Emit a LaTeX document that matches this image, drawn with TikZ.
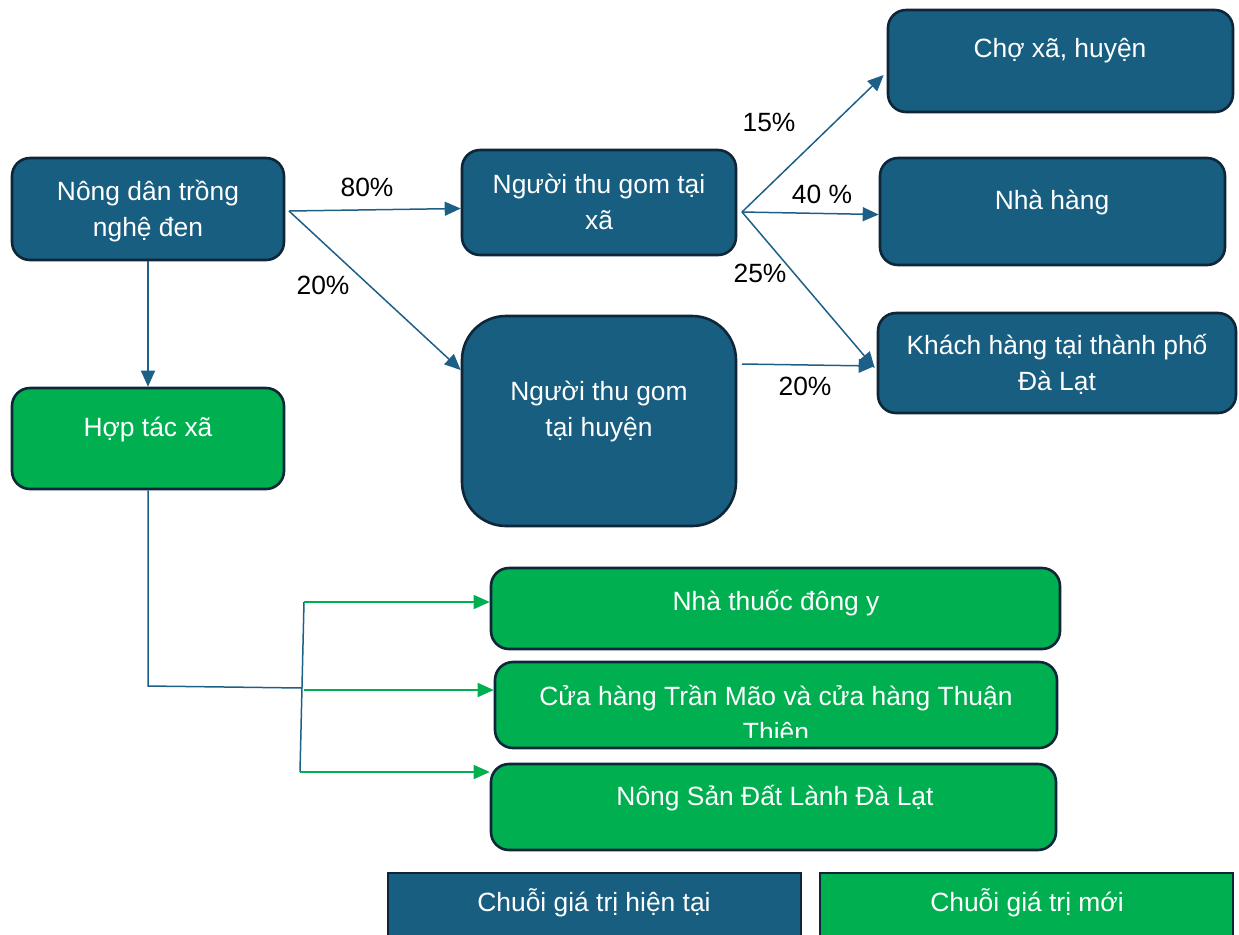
\documentclass[tikz,border=0pt]{standalone}
\usepackage{fontspec}
\setmainfont{Liberation Sans}
\usetikzlibrary{arrows.meta,fit,calc}

\definecolor{chainblue}{RGB}{24,94,128}
\definecolor{chaingreen}{RGB}{0,176,80}
\definecolor{edgenavy}{RGB}{14,38,56}
\definecolor{linkblue}{RGB}{30,95,135}

\tikzset{
  card/.style={draw=edgenavy, line width=1.3pt, rounded corners=9pt, inner sep=0pt},
  current/.style={card, fill=chainblue},
  newchain/.style={card, fill=chaingreen},
  caption/.style={text=white, align=center, inner sep=0pt, font=\fontsize{13.2}{18}\selectfont},
  pct/.style={text=black, inner sep=0pt, font=\fontsize{13.2}{16}\selectfont},
  flow/.style={draw=linkblue, line width=0.75pt, -{Triangle[length=8pt,width=7pt]}},
  trunk/.style={draw=linkblue, line width=0.75pt},
  newflow/.style={draw=chaingreen, line width=0.75pt, -{Triangle[length=8pt,width=7pt]}},
}

\begin{document}
\begin{tikzpicture}[x=0.5pt,y=-0.5pt]
\useasboundingbox (0,0) rectangle (1239,934);

% current value chain
\node[current, fit={(12,158)(284,260)}] (farm) {};
\node[caption] (farmtxt) at (148,211) {Nông dân trồng\\nghệ đen};
\node[current, fit={(462,150)(736,255)}] (xa) {};
\node[caption] (xatxt) at (599,202) {Người thu gom tại\\xã};
\node[current, rounded corners=22pt, fit={(462,316)(736,526)}] (huyen) {};
\node[caption] (huyentxt) at (599,412) {Người thu gom\\tại huyện};
\node[current, fit={(888,10)(1233,112)}] (market) {};
\node[caption] (markettxt) at (1060,51) {Chợ xã, huyện};
\node[current, fit={(880,158)(1225,265)}] (rest) {};
\node[caption] (resttxt) at (1052,203) {Nhà hàng};
\node[current, fit={(878,313)(1236,413)}] (city) {};
\node[caption] (citytxt) at (1057,364) {Khách hàng tại thành phố\\Đà Lạt};

% new value chain
\node[newchain, fit={(12,388)(284,489)}] (coop) {};
\node[caption] (cooptxt) at (148,430) {Hợp tác xã};
\node[newchain, fit={(491,568)(1060,649)}] (pharm) {};
\node[caption] (pharmtxt) at (776,603) {Nhà thuốc đông y};
\node[newchain, fit={(495,662)(1057,748)}] (shops) {};
\begin{scope}
  \clip (495,662) rectangle (1057,737);
  \node[caption] (shopstxt) at (776,713) {Cửa hàng Trần Mão và cửa hàng Thuận\\Thiên};
\end{scope}
\node[newchain, fit={(491,764)(1056,850)}] (dalat) {};
\node[caption] (dalattxt) at (775,798) {Nông Sản Đất Lành Đà Lạt};

% legend
\node[current, rounded corners=0pt, fit={(388,873)(801,960)}] (legcur) {};
\node[caption] (legcurtxt) at (594,903) {Chuỗi giá trị hiện tại};
\node[newchain, rounded corners=0pt, fit={(820,873)(1233,960)}] (legnew) {};
\node[caption] (legnewtxt) at (1027,903) {Chuỗi giá trị mới};

% flows of the current chain
\coordinate (farmout) at (289,211);
\coordinate (xaout) at (742,212);
\coordinate (huyenout) at (742,364);
\draw[flow] (farmout) -- ($(xa.west)+(0,6)$);
\draw[flow] (farmout) -- ($(huyen.west)+(0,-51)$);
\draw[flow] (farm.south) -- (coop.north);
\draw[flow] (xaout) -- ($(market.west)+(-3,14)$);
\draw[flow] (xaout) -- ($(rest.west)+(0,3)$);
\draw[flow] (xaout) -- ($(city.west)+(-2,5)$);
\draw[flow] (huyenout) -- ($(city.west)+(-2,3)$);

% shares
\node[pct] (p80) at (367,187) {80\%};
\node[pct] (p20a) at (323,285) {20\%};
\node[pct] (p15) at (769,122) {15\%};
\node[pct] (p40) at (822,194) {40 \%};
\node[pct] (p25) at (760,273) {25\%};
\node[pct] (p20b) at (805,386) {20\%};

% flows of the new chain
\coordinate (elbow) at (148,686);
\coordinate (hub) at (302,688);
\coordinate (hubtop) at (304,602);
\coordinate (hubmid) at (304,690);
\coordinate (hubbot) at (300,772);
\draw[trunk] (coop.south) -- (elbow) -- (hub);
\draw[trunk] (hubtop) -- (hubbot);
\draw[newflow] (hubtop) -- (pharm.west |- hubtop);
\draw[newflow] (hubmid) -- (shops.west |- hubmid);
\draw[newflow] (hubbot) -- (dalat.west |- hubbot);
\end{tikzpicture}
\end{document}
